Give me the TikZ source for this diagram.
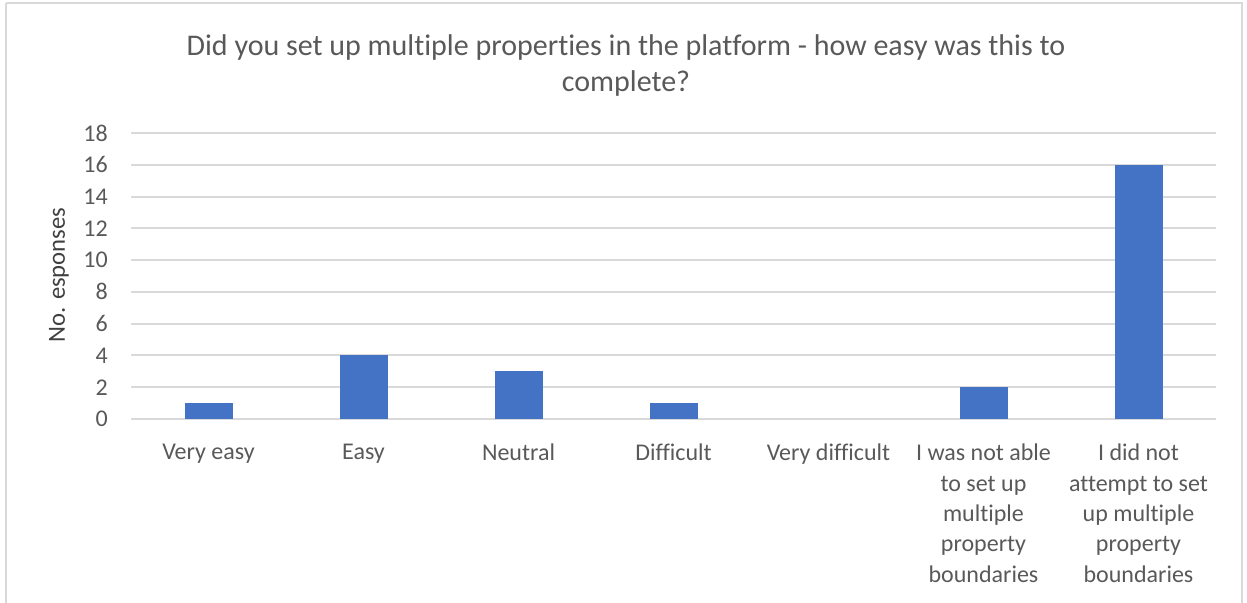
\documentclass[tikz,border=0pt]{standalone}
\usepackage{fontspec}
\setmainfont{Carlito}[Ligatures=NoCommon]
\definecolor{txt}{HTML}{595959}
\definecolor{ylab}{HTML}{404040}
\definecolor{grid}{HTML}{D9D9D9}
\definecolor{bar}{HTML}{4472C4}
\begin{document}
\begin{tikzpicture}[x=0.75pt,y=-0.75pt,
  gridline/.style={draw=grid,line width=1.5pt},
  barbox/.style={fill=bar,draw=none},
  ticklab/.style={anchor=east,inner sep=0pt,text=txt,font=\fontsize{18}{22.5}\selectfont},
  catlab/.style={anchor=north,inner sep=0pt,align=center,text=txt,font=\fontsize{18}{22.7}\selectfont},
  titlelab/.style={anchor=north,inner sep=0pt,align=center,text=txt,font=\fontsize{22.5}{27.5}\selectfont},
  axislab/.style={rotate=90,inner sep=0pt,text=ylab,font=\fontsize{18.5}{22.5}\selectfont}]
\useasboundingbox (0,0) rectangle (1247,603);
\draw[draw=grid,line width=1.5pt] (6,3) -- (1242,3) -- (1242,615) (6,3) -- (6,615);
% gridlines and tick labels
\foreach \v in {0,2,...,18}{
  \draw[gridline] (131,{419-\v*15.89}) -- (1216,{419-\v*15.89});
  \node[ticklab] (t\v) at (108,{419-\v*15.89}) {\v};
}
% bars
\foreach \i/\val in {1/1,2/4,3/3,4/1,6/2,7/16}{
  \fill[barbox] ({131+(\i-0.5)*155-24},419) rectangle ({131+(\i-0.5)*155+24},{419-\val*15.89});
}
% category labels
\node[catlab] (c1) at (208.5,444) {Very easy};
\node[catlab] (c2) at (363.5,444) {Easy};
\node[catlab] (c3) at (518.5,444) {Neutral};
\node[catlab] (c4) at (673.5,444) {Difficult};
\node[catlab] (c5) at (828.5,444) {Very difficult};
\node[catlab] (c6) at (983.5,444) {I was not able\\to set up\\multiple\\property\\boundaries};
\node[catlab] (c7) at (1138.5,444) {I did not\\attempt to set\\up multiple\\property\\boundaries};
% title
\node[titlelab] (title) at (626,34) {Did you set up multiple properties in the platform - how easy was this to\\complete?};
% axis label
\node[axislab] (ylabel) at (59,275) {No. esponses};
\end{tikzpicture}
\end{document}
